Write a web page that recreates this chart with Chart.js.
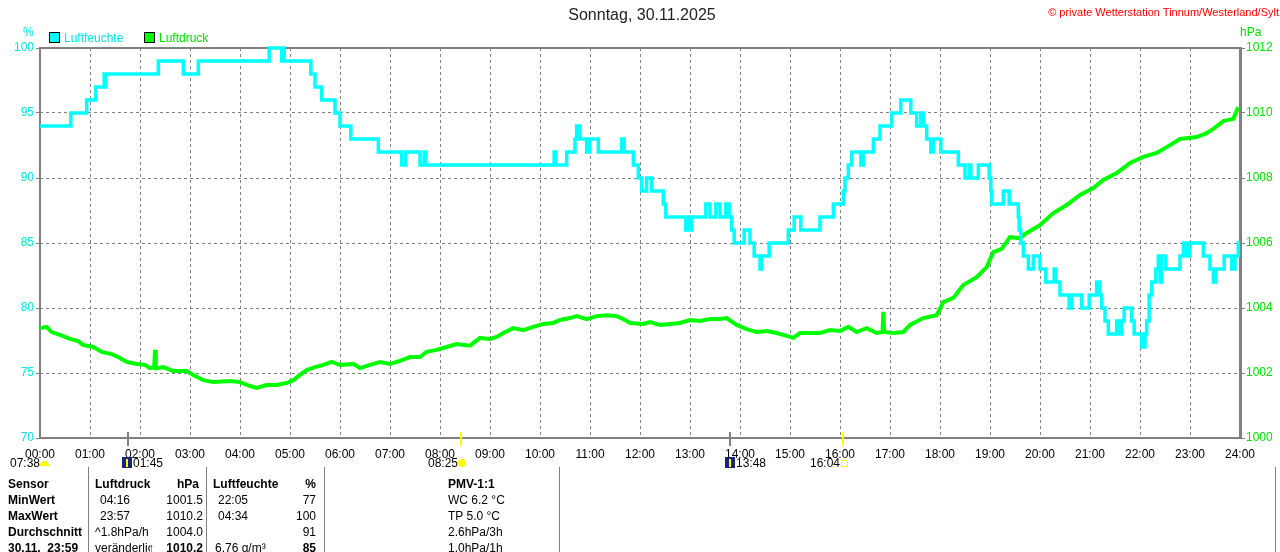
<!DOCTYPE html>
<html>
<head>
<meta charset="utf-8">
<script src="https://cdn.jsdelivr.net/npm/chart.js@4.4.1/dist/chart.umd.min.js"></script>
<style>
body { margin:0; background:#fff; width:1280px; height:552px; overflow:hidden; position:relative; font-family:"Liberation Sans", Arial, sans-serif; font-size:12px; color:#000; }
#wrap { position:absolute; left:0; top:0; width:1280px; height:470px; }
.t { position:absolute; white-space:nowrap; line-height:14px; }
.b { font-weight:bold; }
.r { text-align:right; }
.vl { position:absolute; top:467px; height:85px; width:1px; background:#808080; }
.box { position:absolute; width:9px; height:9px; border:1px solid #000; }
</style>
</head>
<body>
<div id="wrap"><canvas id="myChart" width="1280" height="470"></canvas></div>

<!-- Kopfzeile -->
<div class="t" style="left:542px;top:6px;width:200px;text-align:center;font-size:16px;line-height:18px;color:#222">Sonntag, 30.11.2025</div>
<div class="t" style="right:1px;top:5px;color:#ff0000;font-size:11px">© private Wetterstation Tinnum/Westerland/Sylt</div>
<div class="t" style="left:23px;top:25px;color:#00e5e5">%</div>
<div class="t" style="left:1240px;top:25px;color:#00e000">hPa</div>
<div class="box" style="left:49px;top:32px;background:#00ffff"></div>
<div class="t" style="left:64px;top:31px;color:#00e5e5">Luftfeuchte</div>
<div class="box" style="left:144px;top:32px;background:#00ff00"></div>
<div class="t" style="left:159px;top:31px;color:#00e000">Luftdruck</div>

<!-- Mond / Sonne -->
<div class="t" style="left:10px;top:456px">07:38</div>
<div style="position:absolute;left:40px;top:461px;width:9px;height:5px;background:#ffff00;border-radius:5px 5px 0 0"></div>
<div style="position:absolute;left:122px;top:457px;width:10px;height:11px;background:#1a237e"></div>
<div style="position:absolute;left:126px;top:459px;width:2px;height:8px;background:#ffff00"></div>
<div class="t" style="left:133px;top:456px">01:45</div>
<div class="t" style="left:428px;top:456px">08:25</div>
<div style="position:absolute;left:458px;top:459px;width:8px;height:8px;background:#ffff00;border-radius:4px"></div>
<div style="position:absolute;left:725px;top:457px;width:10px;height:11px;background:#1a237e"></div>
<div style="position:absolute;left:729px;top:459px;width:2px;height:8px;background:#ffff00"></div>
<div class="t" style="left:736px;top:456px">13:48</div>
<div class="t" style="left:810px;top:456px">16:04</div>
<div style="position:absolute;left:841px;top:460px;width:5px;height:5px;border:1px solid #ffff00"></div>

<!-- Tabelle -->
<div class="vl" style="left:88px"></div>
<div class="vl" style="left:206px"></div>
<div class="vl" style="left:324px"></div>
<div class="vl" style="left:559px"></div>
<div class="vl" style="left:1275px"></div>

<div class="t b" style="left:8px;top:477px">Sensor</div>
<div class="t b" style="left:95px;top:477px">Luftdruck</div>
<div class="t b r" style="left:150px;width:49px;top:477px">hPa</div>
<div class="t b" style="left:213px;top:477px">Luftfeuchte</div>
<div class="t b r" style="left:280px;width:36px;top:477px">%</div>
<div class="t b" style="left:448px;top:477px">PMV-1:1</div>

<div class="t b" style="left:8px;top:493px">MinWert</div>
<div class="t" style="left:100px;top:493px">04:16</div>
<div class="t r" style="left:150px;width:53px;top:493px">1001.5</div>
<div class="t" style="left:218px;top:493px">22:05</div>
<div class="t r" style="left:280px;width:36px;top:493px">77</div>
<div class="t" style="left:448px;top:493px">WC 6.2 °C</div>

<div class="t b" style="left:8px;top:509px">MaxWert</div>
<div class="t" style="left:100px;top:509px">23:57</div>
<div class="t r" style="left:150px;width:53px;top:509px">1010.2</div>
<div class="t" style="left:218px;top:509px">04:34</div>
<div class="t r" style="left:280px;width:36px;top:509px">100</div>
<div class="t" style="left:448px;top:509px">TP 5.0 °C</div>

<div class="t b" style="left:8px;top:525px">Durchschnitt</div>
<div class="t" style="left:95px;top:525px">^1.8hPa/h</div>
<div class="t r" style="left:150px;width:53px;top:525px">1004.0</div>
<div class="t r" style="left:280px;width:36px;top:525px">91</div>
<div class="t" style="left:448px;top:525px">2.6hPa/3h</div>

<div class="t b" style="left:8px;top:541px">30.11.&nbsp;&nbsp;23:59</div>
<div class="t" style="left:95px;top:541px;width:55px;overflow:hidden">veränderlich</div>
<div class="t b" style="left:148px;top:541px;color:#1a237e">↑</div>
<div class="t b r" style="left:150px;width:53px;top:541px">1010.2</div>
<div class="t" style="left:215px;top:541px">6.76 g/m³</div>
<div class="t b r" style="left:280px;width:36px;top:541px">85</div>
<div class="t" style="left:448px;top:541px">1.0hPa/1h</div>

<script>
// Daten (Minuten seit 00:00)

const humMin = [
    0, 37, 56, 67, 77, 78, 79, 142, 172, 190,
    275, 290, 292, 293, 325, 330, 338, 354, 360, 373,
    406, 434, 439, 456, 461, 463, 617, 619, 632, 642,
    644, 648, 656, 660, 670, 698, 701, 712, 718, 722,
    728, 734, 748, 751, 775, 778, 780, 782, 799, 804,
    811, 816, 823, 827, 830, 833, 845, 852, 857, 864,
    866, 875, 898, 905, 913, 936, 952, 964, 966, 970,
    974, 985, 988, 1000, 1008, 1022, 1033, 1045, 1052, 1057,
    1060, 1064, 1069, 1072, 1081, 1102, 1110, 1115, 1117, 1126,
    1139, 1141, 1142, 1156, 1163, 1174, 1175, 1177, 1180, 1186,
    1192, 1200, 1207, 1217, 1219, 1224, 1235, 1238, 1250, 1259,
    1268, 1272, 1274, 1278, 1282, 1292, 1295, 1298, 1301, 1310,
    1313, 1322, 1326, 1328, 1331, 1334, 1339, 1342, 1344, 1346,
    1351, 1368, 1372, 1376, 1380, 1396, 1404, 1408, 1411, 1421,
    1430, 1434, 1438, 1440
];
const humVal = [
    94, 95, 96, 97, 98, 97, 98, 99, 98, 99,
    100, 99, 100, 99, 98, 97, 96, 95, 94, 93,
    92, 91, 92, 91, 92, 91, 92, 91, 92, 93,
    94, 93, 92, 93, 92, 93, 92, 91, 90, 89,
    90, 89, 88, 87, 86, 87, 86, 87, 88, 87,
    88, 87, 88, 87, 86, 85, 86, 85, 84, 83,
    84, 85, 86, 87, 86, 87, 88, 89, 90, 91,
    92, 91, 92, 93, 94, 95, 96, 95, 94, 95,
    94, 93, 92, 93, 92, 91, 90, 91, 90, 91,
    90, 89, 88, 89, 88, 87, 86, 85, 84, 83,
    84, 83, 82, 83, 82, 81, 80, 81, 80, 81,
    82, 81, 80, 79, 78, 79, 78, 79, 80, 79,
    78, 77, 78, 79, 81, 82, 83, 84, 82, 84,
    83, 84, 85, 84, 85, 84, 83, 82, 83, 84,
    83, 84, 85, 85
];

const pressMin = [
    0, 8, 14, 24, 36, 46, 52, 64, 74, 86,
    96, 104, 116, 126, 132, 137, 138, 139, 148, 160,
    176, 184, 196, 208, 228, 240, 252, 260, 272, 284,
    296, 304, 312, 320, 330, 340, 350, 360, 376, 384,
    396, 408, 420, 432, 444, 456, 464, 476, 488, 500,
    516, 528, 540, 548, 556, 568, 580, 592, 604, 616,
    624, 636, 644, 656, 668, 680, 692, 700, 708, 724,
    732, 744, 756, 768, 780, 792, 804, 816, 824, 836,
    848, 860, 872, 884, 896, 904, 912, 924, 936, 948,
    960, 970, 980, 992, 1004, 1011, 1012, 1013, 1024, 1036,
    1044, 1060, 1076, 1084, 1096, 1108, 1124, 1136, 1144, 1154,
    1164, 1176, 1184, 1200, 1216, 1232, 1248, 1264, 1276, 1292,
    1308, 1324, 1340, 1352, 1368, 1388, 1400, 1408, 1420, 1432,
    1438
];
const pressVal = [
    1003.38, 1003.42, 1003.26, 1003.17, 1003.05, 1002.98, 1002.86, 1002.80, 1002.65, 1002.58,
    1002.46, 1002.34, 1002.28, 1002.25, 1002.15, 1002.18, 1002.71, 1002.15, 1002.18, 1002.06,
    1002.06, 1001.94, 1001.78, 1001.72, 1001.75, 1001.72, 1001.60, 1001.54, 1001.63, 1001.63,
    1001.69, 1001.78, 1001.94, 1002.09, 1002.18, 1002.25, 1002.34, 1002.25, 1002.28, 1002.15,
    1002.25, 1002.34, 1002.28, 1002.37, 1002.49, 1002.49, 1002.65, 1002.71, 1002.80, 1002.89,
    1002.84, 1003.08, 1003.05, 1003.11, 1003.23, 1003.38, 1003.32, 1003.42, 1003.51, 1003.54,
    1003.63, 1003.69, 1003.75, 1003.66, 1003.75, 1003.78, 1003.75, 1003.66, 1003.54, 1003.51,
    1003.57, 1003.48, 1003.51, 1003.54, 1003.63, 1003.60, 1003.66, 1003.66, 1003.69, 1003.48,
    1003.35, 1003.26, 1003.29, 1003.23, 1003.14, 1003.08, 1003.23, 1003.23, 1003.23, 1003.32,
    1003.29, 1003.42, 1003.26, 1003.38, 1003.23, 1003.26, 1003.88, 1003.26, 1003.23, 1003.26,
    1003.48, 1003.69, 1003.78, 1004.18, 1004.31, 1004.71, 1004.95, 1005.26, 1005.72, 1005.82,
    1006.18, 1006.15, 1006.31, 1006.55, 1006.92, 1007.17, 1007.48, 1007.69, 1007.94, 1008.15,
    1008.46, 1008.65, 1008.77, 1008.95, 1009.20, 1009.26, 1009.38, 1009.51, 1009.75, 1009.82,
    1010.18
];

// Stundenticks und Mond/Sonne-Markierungen
const hourTicks = [0, 60, 120, 180, 240, 300, 360, 420, 480, 540, 600, 660, 720, 780, 840, 900, 960, 1020, 1080, 1140, 1200, 1260, 1320, 1380, 1440];
const markerMin = [105, 505, 828, 964];
const markerColor = ['#808080', '#ffff00', '#808080', '#ffff00'];

const fontFam = '"Liberation Sans", Arial, sans-serif';
const ctx = document.getElementById('myChart').getContext('2d');

// Rahmen um die Zeichenfläche
const rahmenPlugin = {
    id: 'rahmen',
    beforeDatasetsDraw(chart) {
        const { ctx, chartArea: a } = chart;
        ctx.save();
        ctx.strokeStyle = '#808080';
        ctx.lineWidth = 2;
        ctx.strokeRect(a.left, a.top, a.right - a.left, a.bottom - a.top);
        ctx.lineWidth = 3;
        ctx.beginPath();
        ctx.moveTo(a.right + 0.5, a.top - 1);
        ctx.lineTo(a.right + 0.5, a.bottom + 1);
        ctx.stroke();
        ctx.restore();
    },
    afterDraw(chart) {
        const { ctx, chartArea: a } = chart;
        const xs = chart.scales.x;
        ctx.save();
        ctx.lineWidth = 2;
        markerMin.forEach((m, i) => {
            const px = Math.round(xs.getPixelForValue(m));
            ctx.strokeStyle = markerColor[i];
            ctx.beginPath();
            ctx.moveTo(px, a.bottom - 6);
            ctx.lineTo(px, a.bottom + 8);
            ctx.stroke();
        });
        ctx.restore();
    }
};

const myChart = new Chart(ctx, {
    type: 'line',
    data: {
        datasets: [{
            label: 'Luftfeuchte',
            data: humMin.map((m, i) => ({ x: m, y: humVal[i] })),
            yAxisID: 'y',
            borderColor: '#00ffff',
            borderWidth: 3.5,
            pointRadius: 0,
            stepped: true,
            clip: 4
        }, {
            label: 'Luftdruck',
            data: pressMin.map((m, i) => ({ x: m, y: pressVal[i] })),
            yAxisID: 'y2',
            borderColor: '#00ff00',
            borderWidth: 4,
            pointRadius: 0,
            tension: 0,
            clip: 4
        }]
    },
    options: {
        responsive: false,
        animation: false,
        devicePixelRatio: 1,
        layout: { padding: { top: 48, left: 0, right: 0, bottom: 0 } },
        plugins: { legend: { display: false }, title: { display: false }, tooltip: { enabled: false } },
        scales: {
            x: {
                type: 'linear',
                min: 0,
                max: 1440,
                afterBuildTicks: s => { s.ticks = hourTicks.map(v => ({ value: v })); },
                afterFit: s => { s.height = 32; },
                ticks: {
                    autoSkip: false,
                    maxRotation: 0,
                    padding: 9,
                    color: '#000',
                    font: { family: fontFam, size: 12 },
                    callback: v => String(Math.floor(v / 60)).padStart(2, '0') + ':00'
                },
                grid: { color: '#808080', lineWidth: 1, drawTicks: false },
                border: { display: false, dash: [3, 3] }
            },
            y: {
                position: 'left',
                min: 70,
                max: 100,
                afterFit: s => { s.width = 40; },
                ticks: { stepSize: 5, padding: 2, color: '#00e5e5', font: { family: fontFam, size: 12 }, callback: v => String(v) },
                grid: { color: '#808080', lineWidth: 1, tickLength: 4, tickColor: '#808080' },
                border: { display: false, dash: [3, 3] }
            },
            y2: {
                position: 'right',
                min: 1000,
                max: 1012,
                afterFit: s => { s.width = 40; },
                ticks: { stepSize: 2, padding: 1, color: '#00e000', font: { family: fontFam, size: 12 }, callback: v => String(v) },
                grid: { drawOnChartArea: false, tickLength: 5, tickColor: '#808080' },
                border: { display: false }
            }
        }
    },
    plugins: [rahmenPlugin]
});
</script>
</body>
</html>
